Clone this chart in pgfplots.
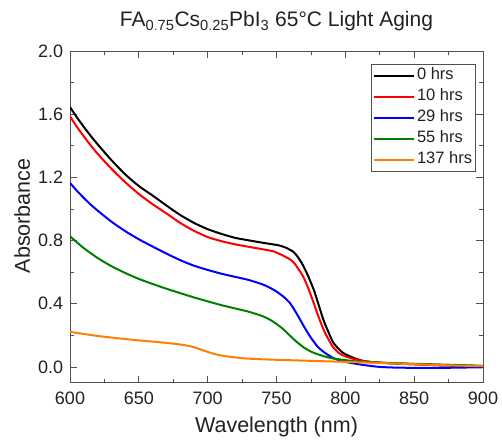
\documentclass[border=0pt]{standalone}
\usepackage{fontspec}
\setmainfont{Liberation Sans}
\usepackage{pgfplots}
\pgfplotsset{compat=1.18}
\definecolor{cOrange}{RGB}{255,128,0}
\definecolor{cGreen}{RGB}{0,128,0}
\definecolor{cText}{RGB}{34,34,34}
\definecolor{cFrame}{RGB}{80,80,80}

\begin{document}
\begin{tikzpicture}
\useasboundingbox (-70pt,-61.3pt) rectangle (432pt,382.7pt);
\begin{axis}[
  scale only axis,
  width=413pt, height=331.7pt,
  xmin=600, xmax=900, ymin=-0.1, ymax=2.0,
  xtick={600,650,...,900},
  ytick={0,0.4,...,2.0},
  minor x tick num=1,
  minor y tick num=1,
  major tick length=7pt,
  minor tick length=4pt,
  axis line style={cFrame, line width=0.8pt},
  every tick/.style={cFrame, line width=0.8pt},
  /pgf/number format/assume math mode=true,
  tick label style={font=\fontsize{18}{21}\selectfont, text=cText},
  xticklabel style={anchor=base, yshift=-21.3pt, inner sep=0pt},
  yticklabel style={anchor=east, xshift=-6.7pt, inner sep=0pt,
    /pgf/number format/.cd, fixed, fixed zerofill, precision=1},
  title={FA$_{\mathrm{0.75}}$Cs$_{\mathrm{0.25}}$PbI$_{\mathrm{3}}$ 65°C Light Aging},
  title style={at={(axis description cs:0.5,1.0543)}, anchor=base,
    font=\fontsize{21}{25}\selectfont, text=cText, inner sep=0pt},
  xlabel={Wavelength (nm)},
  ylabel={Absorbance},
  label style={font=\fontsize{21.5}{25}\selectfont, text=cText, inner sep=0pt},
  xlabel style={at={(axis description cs:0.5,-0.1507)}, anchor=base},
  ylabel style={at={(axis description cs:-0.0969,0.503)}, anchor=base},
  legend style={at={(axis description cs:0.983,0.961)}, anchor=north east,
    draw=cFrame, line width=0.8pt, inner sep=1pt,
    font=\fontsize{16.5}{19}\selectfont, text=cText,
    nodes={text height=12pt, text depth=4pt, inner sep=2.5pt}},
  legend cell align=left,
  legend image code/.code={\draw[#1, line width=2pt] (0pt,0pt) -- (40pt,0pt);},
  every axis plot/.append style={line width=2pt, smooth, tension=0.4},
]
\addplot[black] coordinates {
(600,1.645) (605,1.580) (610,1.520) (615,1.463) (620,1.410) (630,1.310)
(640,1.220) (650,1.145) (660,1.085) (670,1.022) (680,0.962) (690,0.912)
(700,0.872) (710,0.842) (720,0.817) (730,0.801) (740,0.786) (748,0.775)
(752,0.769) (757,0.754) (762,0.730) (765,0.702) (768,0.662) (770,0.630)
(773,0.575) (777,0.490) (780,0.410) (784,0.300) (788,0.215) (791,0.157)
(795,0.115) (799,0.085) (806,0.057) (812,0.040) (820,0.030) (835,0.022)
(850,0.017) (870,0.010) (900,0.005)
};
\addlegendentry{0 hrs}
\addplot[red] coordinates {
(600,1.586) (605,1.520) (610,1.460) (615,1.403) (620,1.350) (630,1.255)
(640,1.170) (650,1.095) (660,1.030) (670,0.972) (680,0.912) (690,0.862)
(700,0.822) (710,0.796) (720,0.776) (730,0.760) (740,0.745) (748,0.731)
(753,0.712) (758,0.690) (762,0.666) (765,0.632) (768,0.592) (770,0.560)
(773,0.500) (777,0.405) (780,0.330) (784,0.240) (788,0.170) (791,0.127)
(795,0.090) (799,0.070) (806,0.050) (812,0.038) (820,0.030) (835,0.022)
(850,0.017) (870,0.010) (900,0.005)
};
\addlegendentry{10 hrs}
\addplot[blue] coordinates {
(600,1.165) (605,1.115) (610,1.070) (615,1.028) (620,0.990) (630,0.920)
(640,0.860) (650,0.808) (660,0.762) (670,0.718) (680,0.676) (690,0.641)
(700,0.614) (710,0.590) (720,0.570) (730,0.550) (740,0.522) (745,0.502)
(750,0.477) (755,0.445) (760,0.402) (765,0.332) (770,0.255) (775,0.185)
(780,0.127) (785,0.090) (790,0.062) (796,0.040) (806,0.022) (815,0.010)
(825,0.000) (840,-0.005) (870,-0.006) (900,-0.002)
};
\addlegendentry{29 hrs}
\addplot[cGreen] coordinates {
(600,0.827) (610,0.752) (620,0.690) (630,0.638) (640,0.595) (650,0.557)
(660,0.525) (670,0.495) (680,0.467) (690,0.440) (700,0.415) (710,0.391)
(720,0.370) (730,0.349) (740,0.321) (745,0.300) (750,0.272) (755,0.238)
(760,0.196) (765,0.156) (770,0.122) (775,0.097) (780,0.080) (785,0.066)
(790,0.055) (800,0.043) (810,0.033) (830,0.025) (850,0.020) (870,0.015)
(900,0.007)
};
\addlegendentry{55 hrs}
\addplot[cOrange] coordinates {
(600,0.222) (620,0.196) (645,0.172) (660,0.160) (670,0.152) (680,0.142)
(685,0.135) (690,0.125) (695,0.110) (700,0.095) (705,0.082) (710,0.072)
(720,0.060) (730,0.052) (750,0.045) (780,0.037) (800,0.032) (825,0.025)
(850,0.017) (875,0.010) (900,0.004)
};
\addlegendentry{137 hrs}
\end{axis}
\end{tikzpicture}
\end{document}
